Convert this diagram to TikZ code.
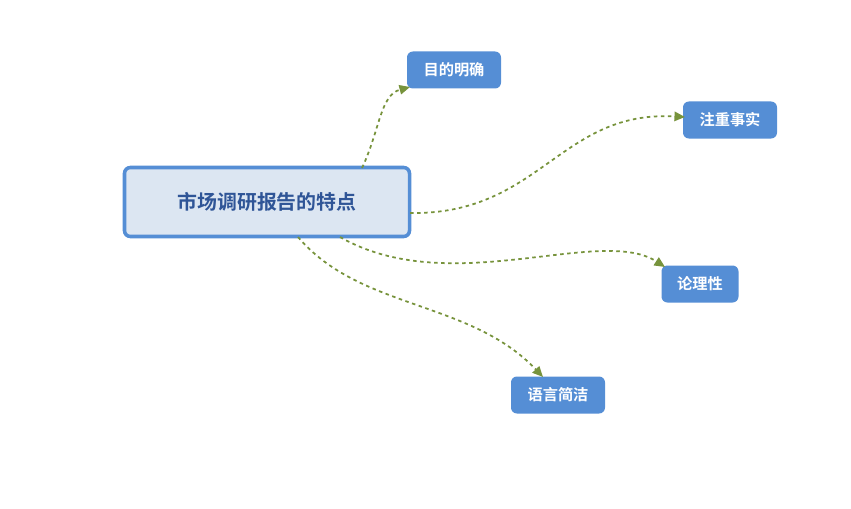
\documentclass[tikz,border=0pt]{standalone}
\usepackage{fontspec}
\newfontfamily\cjk{Noto Sans CJK SC Bold}
\usetikzlibrary{arrows.meta}
\definecolor{topicfill}{HTML}{DCE6F2}
\definecolor{topicblue}{HTML}{558ED5}
\definecolor{topictext}{HTML}{2F5597}
\definecolor{linkgreen}{HTML}{77933C}
\begin{document}
\begin{tikzpicture}[x=0.03cm,y=-0.03cm]
        \tikzset{main/.style={draw=topicblue,fill=topicfill,line width=3pt,rounded corners=5pt,minimum width=285*0.03cm,minimum height=69*0.03cm,text=topictext,font=\cjk\fontsize{17}{20}\selectfont},
                 sub/.style={fill=topicblue,rounded corners=5pt,minimum width=94*0.03cm,minimum height=37*0.03cm,text=white,inner sep=0pt,font=\cjk\fontsize{13}{16}\selectfont},
                 link/.style={draw=linkgreen,line width=1.5pt,dashed,-{Triangle[length=9pt,width=8pt]}}}
        \useasboundingbox (0,0) rectangle (851,508);
        \node[main] (c) at (267,202) {市场调研报告的特点};
        \node[sub] (n1) at (454,70) {目的明确};
        \node[sub] (n2) at (730,120) {注重事实};
        \node[sub,minimum width=77*0.03cm] (n3) at (700,284) {论理性};
        \node[sub] (n4) at (558,395) {语言简洁};

        \coordinate (s1) at (362,168);
        \coordinate (s2) at (410,213);
        \coordinate (s3) at (340,237);
        \coordinate (s4) at (298,237);
        \coordinate (e1) at (410,87);
        \coordinate (e2) at (685,117);
        \coordinate (e3) at (665,267);
        \coordinate (e4) at (543,377);

        \draw[link] (s1) .. controls (380,130) and (380,95) .. (e1);
        \draw[link] (s2) .. controls (540,215) and (560,110) .. (e2);
        \draw[link] (s3) .. controls (450,300) and (600,225) .. (e3);
        \draw[link] (s4) .. controls (360,310) and (470,300) .. (e4);
\end{tikzpicture}
\end{document}
